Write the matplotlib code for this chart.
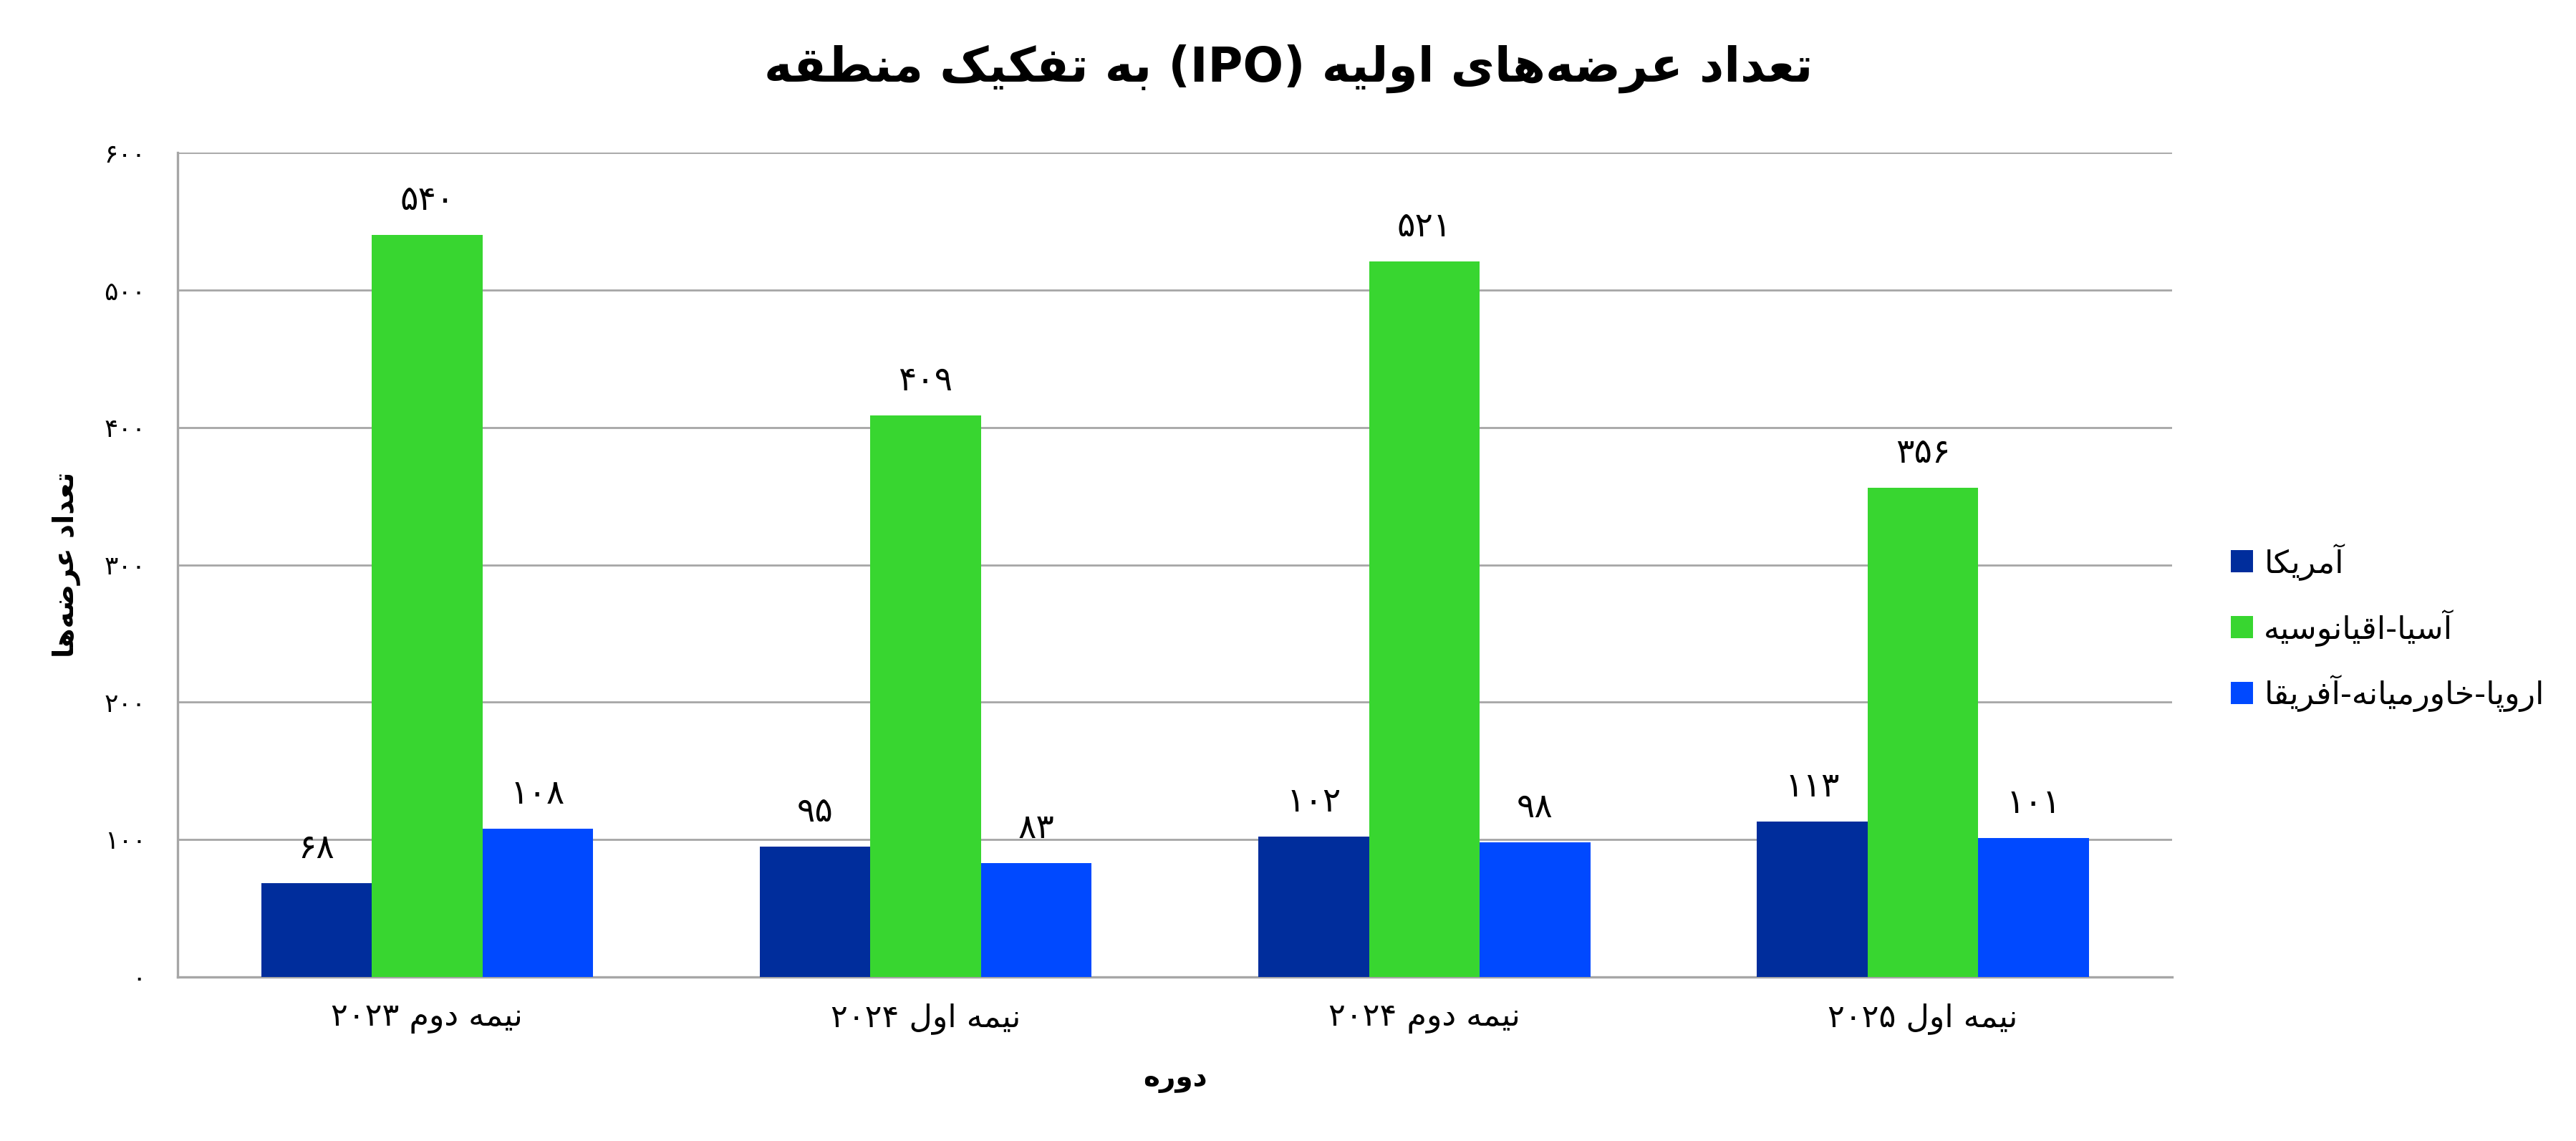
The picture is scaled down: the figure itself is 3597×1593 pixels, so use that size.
import re

import matplotlib
matplotlib.use("Agg")
import matplotlib.pyplot as plt
import numpy as np

# داده‌ها
periods = ["نیمه دوم ۲۰۲۳", "نیمه اول ۲۰۲۴", "نیمه دوم ۲۰۲۴", "نیمه اول ۲۰۲۵"]
series_names = ["آمریکا", "آسیا-اقیانوسیه", "اروپا-خاورمیانه-آفریقا"]
america = [68, 95, 102, 113]
asia_pacific = [540, 409, 521, 356]
emea = [108, 83, 98, 101]
y_ticks = [0, 100, 200, 300, 400, 500, 600]

title_text = "تعداد عرضه‌های اولیه (IPO) به تفکیک منطقه"
y_label_text = "تعداد عرضه‌ها"
x_label_text = "دوره"

colors = ["#002d9c", "#38d630", "#0049ff"]

# isolated, final, initial, medial
FORMS = {
    "ء": (0xFE80,), "آ": (0xFE81, 0xFE82), "أ": (0xFE83, 0xFE84),
    "ؤ": (0xFE85, 0xFE86), "إ": (0xFE87, 0xFE88),
    "ئ": (0xFE89, 0xFE8A, 0xFE8B, 0xFE8C), "ا": (0xFE8D, 0xFE8E),
    "ب": (0xFE8F, 0xFE90, 0xFE91, 0xFE92), "ة": (0xFE93, 0xFE94),
    "ت": (0xFE95, 0xFE96, 0xFE97, 0xFE98), "ث": (0xFE99, 0xFE9A, 0xFE9B, 0xFE9C),
    "ج": (0xFE9D, 0xFE9E, 0xFE9F, 0xFEA0), "ح": (0xFEA1, 0xFEA2, 0xFEA3, 0xFEA4),
    "خ": (0xFEA5, 0xFEA6, 0xFEA7, 0xFEA8), "د": (0xFEA9, 0xFEAA),
    "ذ": (0xFEAB, 0xFEAC), "ر": (0xFEAD, 0xFEAE), "ز": (0xFEAF, 0xFEB0),
    "س": (0xFEB1, 0xFEB2, 0xFEB3, 0xFEB4), "ش": (0xFEB5, 0xFEB6, 0xFEB7, 0xFEB8),
    "ص": (0xFEB9, 0xFEBA, 0xFEBB, 0xFEBC), "ض": (0xFEBD, 0xFEBE, 0xFEBF, 0xFEC0),
    "ط": (0xFEC1, 0xFEC2, 0xFEC3, 0xFEC4), "ظ": (0xFEC5, 0xFEC6, 0xFEC7, 0xFEC8),
    "ع": (0xFEC9, 0xFECA, 0xFECB, 0xFECC), "غ": (0xFECD, 0xFECE, 0xFECF, 0xFED0),
    "ف": (0xFED1, 0xFED2, 0xFED3, 0xFED4), "ق": (0xFED5, 0xFED6, 0xFED7, 0xFED8),
    "ك": (0xFED9, 0xFEDA, 0xFEDB, 0xFEDC), "ل": (0xFEDD, 0xFEDE, 0xFEDF, 0xFEE0),
    "م": (0xFEE1, 0xFEE2, 0xFEE3, 0xFEE4), "ن": (0xFEE5, 0xFEE6, 0xFEE7, 0xFEE8),
    "ه": (0xFEE9, 0xFEEA, 0xFEEB, 0xFEEC), "و": (0xFEED, 0xFEEE),
    "ى": (0xFEEF, 0xFEF0), "ي": (0xFEF1, 0xFEF2, 0xFEF3, 0xFEF4),
    "پ": (0xFB56, 0xFB57, 0xFB58, 0xFB59), "چ": (0xFB7A, 0xFB7B, 0xFB7C, 0xFB7D),
    "ژ": (0xFB8A, 0xFB8B), "ک": (0xFB8E, 0xFB8F, 0xFB90, 0xFB91),
    "گ": (0xFB92, 0xFB93, 0xFB94, 0xFB95), "ی": (0xFBFC, 0xFBFD, 0xFBFE, 0xFBFF),
}
FA_DIGITS = "۰۱۲۳۴۵۶۷۸۹"


def shape(text):
    out = []
    n = len(text)
    for i, ch in enumerate(text):
        if ch not in FORMS:
            if ch != "\u200c":
                out.append(ch)
            continue
        forms = FORMS[ch]
        prev = text[i - 1] if i > 0 else ""
        nxt = text[i + 1] if i < n - 1 else ""
        join_prev = prev in FORMS and len(FORMS[prev]) == 4 and len(forms) > 1
        join_next = len(forms) == 4 and nxt in FORMS
        if join_prev and join_next:
            code = forms[3]
        elif join_prev:
            code = forms[1]
        elif join_next:
            code = forms[2]
        else:
            code = forms[0]
        out.append(chr(code))
    return "".join(out)


def fa(text):
    # شکل‌دهی حروف و راست به چپ کردن متن
    vis = shape(text)[::-1]
    vis = re.sub(r"[A-Za-z0-9۰-۹.]+", lambda m: m.group(0)[::-1], vis)
    vis = vis.translate(str.maketrans("()", ")("))
    return vis


def fa_num(n):
    return "".join(FA_DIGITS[int(d)] for d in str(n))


plt.rcParams['font.family'] = ['DejaVu Sans']

fig = plt.figure(figsize=(17.99, 7.965), dpi=200)
ax = fig.add_axes([0.069, 0.144, 0.774, 0.722])

x = np.arange(len(periods))
width = 0.222
all_series = [america, asia_pacific, emea]
for k, (vals, name) in enumerate(zip(all_series, series_names)):
    bars = ax.bar(x + (k - 1) * width, vals, width, color=colors[k], label=fa(name), zorder=3)
    ax.bar_label(bars, labels=[fa_num(v) for v in vals], padding=9, fontsize=17, color="black")

ax.set_xlim(-0.5, len(periods) - 0.5)
ax.set_ylim(0, 600)
ax.set_yticks(y_ticks)
ax.set_yticklabels([fa_num(v) for v in y_ticks], fontsize=13)
ax.set_xticks(x)
ax.set_xticklabels([fa(p) for p in periods], fontsize=16)
ax.tick_params(axis="both", length=0)
ax.tick_params(axis="y", pad=16)
ax.tick_params(axis="x", pad=13)

ax.grid(axis="y", color="#a6a6a6", linewidth=1.0, zorder=0)
for side in ["top", "right"]:
    ax.spines[side].set_visible(False)
for side in ["left", "bottom"]:
    ax.spines[side].set_color("#a6a6a6")
    ax.spines[side].set_linewidth(1.2)

fig.text(0.5, 0.94, fa(title_text), ha="center", va="center", fontsize=24, fontweight="bold")
fig.text(0.0256, 0.505, fa(y_label_text), ha="center", va="center", rotation=90,
         fontsize=14, fontweight="bold")
fig.text(0.456, 0.054, fa(x_label_text), ha="center", va="center", fontsize=14, fontweight="bold")

fig.legend(loc="center left", bbox_to_anchor=(0.8595, 0.45), frameon=False, fontsize=16,
           handlelength=0.7, handleheight=0.7, handletextpad=0.35, labelspacing=0.9, borderpad=0)

plt.savefig("out.png", dpi=200)
